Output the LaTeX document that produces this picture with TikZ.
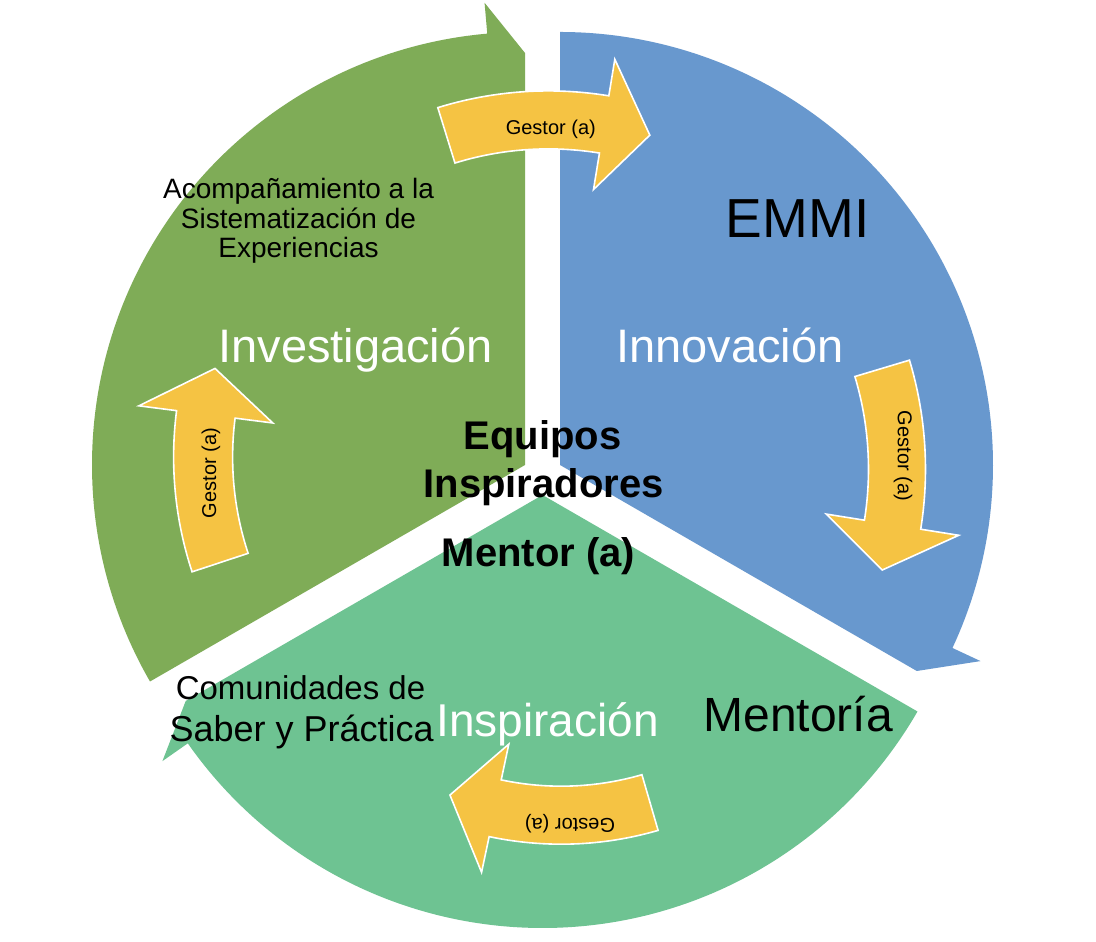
\documentclass[tikz,border=0pt]{standalone}
\usepackage{fontspec}
\setmainfont{Liberation Sans}
\usetikzlibrary{calc}
\definecolor{segGreen}{HTML}{7FAC57}
\definecolor{segBlue}{HTML}{6898CE}
\definecolor{segMint}{HTML}{6EC392}
\definecolor{arrYellow}{HTML}{F5C343}
\newcommand{\fsz}[1]{\fontsize{#1}{#1}\selectfont}
% #1 name, #2 cx, #3 cy, #4 tail angle, #5 base angle, #6 tip angle, #7 mid radius, #8 half width, #9 head half width
\newcommand{\yarrowpath}[9]{%
  \coordinate (#1) at (#2,#3);
  \pgfmathsetmacro\yro{#7+#8}\pgfmathsetmacro\yri{#7-#8}%
  \pgfmathsetmacro\ybo{#7+#9}\pgfmathsetmacro\ybi{#7-#9}%
  \draw[yarr] ($(#1)+(#4:\yro pt)$) arc[start angle=#4, end angle=#5, radius=\yro pt]
    -- ($(#1)+(#5:\ybo pt)$) -- ($(#1)+(#6:#7pt)$) -- ($(#1)+(#5:\ybi pt)$)
    -- ($(#1)+(#5:\yri pt)$) arc[start angle=#5, end angle=#4, radius=\yri pt] -- cycle;
}
\begin{document}
\begin{tikzpicture}[x=1pt,y=1pt,
  yarr/.style={fill=arrYellow, draw=white, line width=1.6pt, line join=miter},
  lbl/.style={inner sep=0pt, outer sep=0pt, anchor=base},
  gestor/.style={inner sep=0pt, outer sep=0pt, font=\fsz{20}, text=black},
  whitebig/.style={lbl, text=white},
  centerbold/.style={lbl, font=\bfseries\fsz{40}, text=black}]
\useasboundingbox (0,0) rectangle (1096,942);
\fill[white] (0,0) rectangle (1096,942);
% centres of the three segments
\coordinate (gc) at (525,477);
\coordinate (bc) at (560,477);
\coordinate (mc) at (542.5,447);
% green segment (Investigacion)
\fill[segGreen] (gc) -- ($(gc)+(210:433pt)$) arc[start angle=210, end angle=95, radius=433pt]
  -- ($(gc)+(95:464pt)$) -- ($(gc)+(90:412pt)$) -- cycle;
% blue segment (Innovacion)
\fill[segBlue] (bc) -- ($(bc)+(90:433pt)$) arc[start angle=90, end angle=-25, radius=433pt]
  -- ($(bc)+(-25:464pt)$) -- ($(bc)+(-30:412pt)$) -- cycle;
% mint segment (Inspiracion)
\fill[segMint] (mc) -- ($(mc)+(-30:433pt)$) arc[start angle=-30, end angle=-145, radius=433pt]
  -- ($(mc)+(-145:464pt)$) -- ($(mc)+(-150:412pt)$) -- cycle;
% yellow curved arrows
\yarrowpath{ya}{548.4}{477.1}{107.2}{80.7}{72.9}{345}{29}{66}
\yarrowpath{yb}{546}{472.8}{16.7}{-9.1}{-16.7}{351}{28.5}{67}
\yarrowpath{yc}{561.3}{444.8}{-73.8}{-102}{-110.5}{318}{29}{65.5}
\yarrowpath{yd}{539.1}{484.9}{198.3}{172.7}{164.7}{336}{29.5}{67.5}
% arrow labels
\node[gestor, anchor=base] (ga) at (550.8,807.7) {Gestor (a)};
\node[gestor, rotate=-90] (gb) at (903,486) {Gestor (a)};
\node[gestor, rotate=180] (gcl) at (570,118.5) {Gestor (a)};
\node[gestor, rotate=90] (gd) at (211,469) {Gestor (a)};
% segment labels
\node[whitebig, font=\fsz{47}] (inv) at (355.5,579.3) {Investigación};
\node[whitebig, font=\fsz{47}] (inn) at (730,579.3) {Innovación};
\node[whitebig, font=\fsz{46}] (ins) at (547.5,205.3) {Inspiración};
\node[lbl, font=\fsz{55}] (emmi) at (797.5,704.7) {EMMI};
\node[lbl, font=\fsz{48}] (ment) at (798.3,210.3) {Mentoría};
\node[lbl, font=\fsz{28}] (aco1) at (298.5,743.7) {Acompañamiento a la};
\node[lbl, font=\fsz{28}] (aco2) at (298.5,713.7) {Sistematización de};
\node[lbl, font=\fsz{28}] (aco3) at (298.5,684.3) {Experiencias};
\node[lbl, font=\fsz{33}] (com1) at (300.5,242) {Comunidades de};
\node[lbl, font=\fsz{36}] (com2) at (301.7,200.3) {Saber y Práctica};
% centre
\node[centerbold] (eq1) at (542.5,492) {Equipos};
\node[centerbold] (eq2) at (543.5,444) {Inspiradores};
\node[centerbold] (mentor) at (538.5,375.3) {Mentor (a)};
\end{tikzpicture}
\end{document}
